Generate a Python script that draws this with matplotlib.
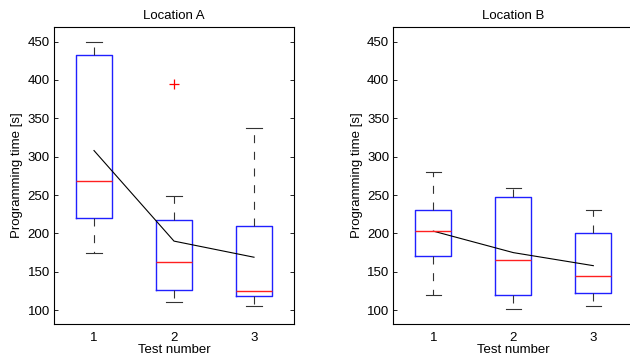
import numpy as np
import matplotlib
matplotlib.use("Agg")
import matplotlib.pyplot as plt

plt.rcParams['font.family'] = ['Liberation Sans', 'DejaVu Sans']

tests = [1, 2, 3]

# Location A
a_whislo = [175, 111, 106]
a_q1 = [220, 126, 119]
a_med = [268, 163, 125]
a_q3 = [432, 217, 210]
a_whishi = [450, 249, 337]
a_fliers = [[], [395], []]
a_mean = [308, 190, 169]

# Location B
b_whislo = [120, 101, 106]
b_q1 = [170, 120, 122]
b_med = [203, 165, 144]
b_q3 = [230, 247, 200]
b_whishi = [280, 259, 230]
b_fliers = [[], [], []]
b_mean = [203, 175, 158]

FS = 9.5


def make_stats(lo, q1, med, q3, hi, fl):
    stats = []
    for i in range(len(lo)):
        stats.append(dict(whislo=lo[i], q1=q1[i], med=med[i], q3=q3[i],
                          whishi=hi[i], fliers=fl[i]))
    return stats


def draw(ax, stats, means, title, right_ticks=True):
    ax.bxp(stats, positions=tests, widths=0.45, capwidths=0.19,
           showfliers=True,
           boxprops=dict(color='#2020ff', linewidth=1.0),
           medianprops=dict(color='#ff2020', linewidth=1.0),
           whiskerprops=dict(color='#333333', linewidth=0.8, linestyle=(0, (7.2, 7.8))),
           capprops=dict(color='#333333', linewidth=0.8),
           flierprops=dict(marker='+', markeredgecolor='#ff0000',
                           markersize=7, markeredgewidth=0.9))
    ax.plot(tests, means, color='black', linewidth=0.8)
    ax.set_xlim(0.5, 3.5)
    ax.set_ylim(82, 469)
    ax.set_yticks([100, 150, 200, 250, 300, 350, 400, 450])
    ax.set_xticks(tests)
    ax.set_xticklabels(['1', '2', '3'])
    ax.tick_params(axis='x', length=0, labelsize=FS, pad=6)
    ax.tick_params(axis='y', direction='in', length=3, right=right_ticks,
                   labelsize=FS, width=0.6, pad=3)
    for s in ax.spines.values():
        s.set_linewidth(0.8)
    ax.set_title(title, fontsize=FS, pad=6)
    ax.set_xlabel('Test number', fontsize=FS, labelpad=0)
    ax.set_ylabel('Programming time [s]', fontsize=FS, labelpad=3)


fig = plt.figure(figsize=(6.3, 3.62), dpi=100)
ax1 = fig.add_axes([0.0857, 0.105, 0.381, 0.8204])
ax2 = fig.add_axes([0.6243, 0.105, 0.381, 0.8204])

draw(ax1, make_stats(a_whislo, a_q1, a_med, a_q3, a_whishi, a_fliers), a_mean, 'Location A')
draw(ax2, make_stats(b_whislo, b_q1, b_med, b_q3, b_whishi, b_fliers), b_mean, 'Location B',
     right_ticks=False)

plt.savefig('out.png', dpi=100)
